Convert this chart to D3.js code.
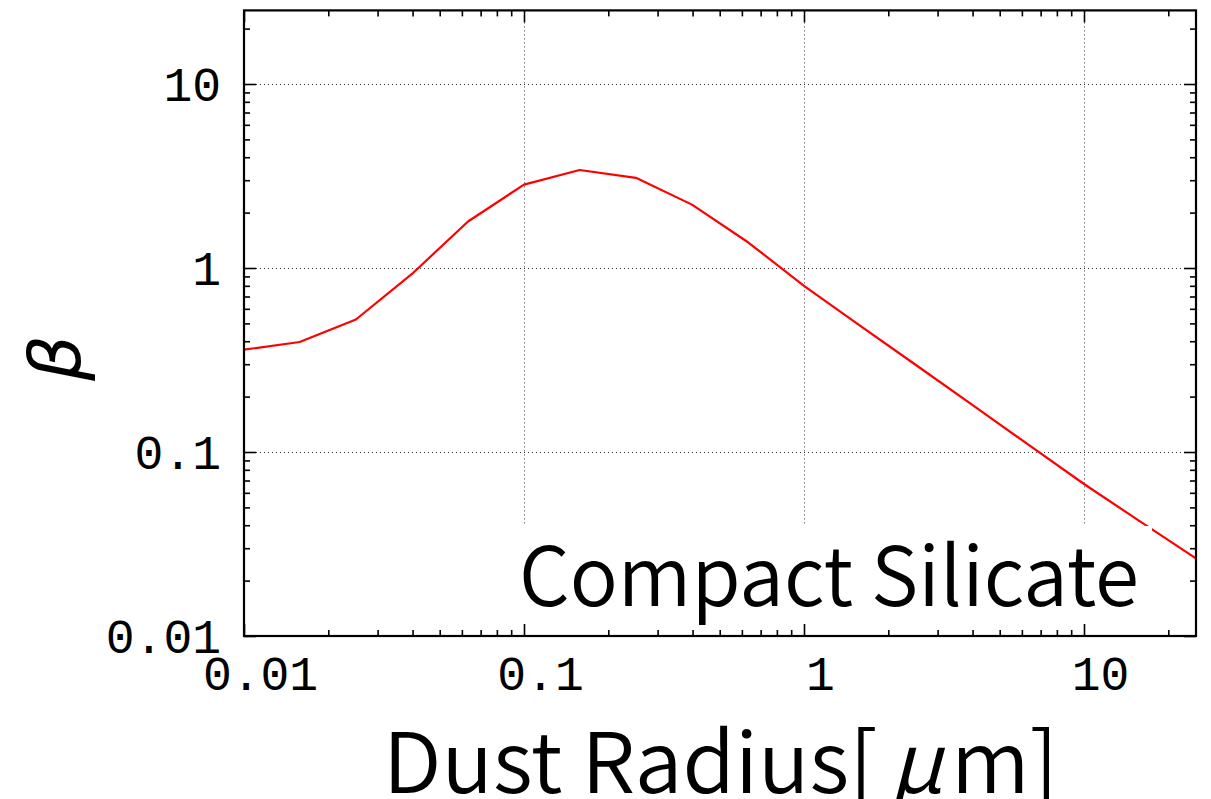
<!DOCTYPE html>
<html>
<head>
<meta charset="utf-8">
<script src="https://cdn.jsdelivr.net/npm/d3@7"></script>
<style>
  html, body { margin: 0; padding: 0; background: #fff; }
  svg { display: block; }
</style>
</head>
<body>
<svg id="chart" width="1211" height="799"></svg>
<script>
// Radiation-pressure ratio beta versus grain radius for compact silicate dust
const radius = [0.01, 0.0158, 0.0251, 0.0398, 0.0631, 0.1, 0.158, 0.251, 0.398, 0.631,
                1.0, 1.58, 2.51, 3.98, 6.31, 10, 15.8, 25.1];
const beta   = [0.360, 0.396, 0.525, 0.928, 1.79, 2.84, 3.41, 3.09, 2.21, 1.38,
                0.80, 0.488, 0.297, 0.181, 0.110, 0.067, 0.0421, 0.0264];

const majorTicks = [0.01, 0.1, 1, 10];
const majorLabels = ["0.01", "0.1", "1", "10"];
const xTitleParts = ["Dust Radius[", "\u03bc", "m]"];
const yTitle = "\u03b2";
const annotation = "Compact Silicate";

const plotLeft = 244, plotRight = 1196, plotTop = 10.4, plotBottom = 636;
const domainMax = Math.pow(10, 1.4);

const x = d3.scaleLog().domain([0.01, domainMax]).range([plotLeft, plotRight]);
const y = d3.scaleLog().domain([0.01, domainMax]).range([plotBottom, plotTop]);

// minor ticks: 2..9 in every decade inside the domain
function minorTicks(scale) {
  const out = [];
  const [d0, d1] = scale.domain();
  for (let e = -2; e <= 1; e++) {
    for (let m = 2; m <= 9; m++) {
      const v = m * Math.pow(10, e);
      if (v > d0 && v < d1) out.push(v);
    }
  }
  return out;
}
const xMinor = minorTicks(x), yMinor = minorTicks(y);

const svg = d3.select("#chart");
const W = plotRight - plotLeft, H = plotBottom - plotTop;
const sansFont = "'Noto Sans CJK JP', 'Noto Sans', sans-serif";

// dotted grid at the major decades
const grid = svg.append("g").attr("stroke", "#333").attr("stroke-width", 1)
  .attr("stroke-dasharray", "1,3");
grid.selectAll("line.gx").data(majorTicks.filter(v => v > 0.01)).enter()
  .append("line")
  .attr("x1", d => Math.round(x(d)) + 0.5).attr("x2", d => Math.round(x(d)) + 0.5)
  .attr("y1", plotTop).attr("y2", plotBottom);
grid.selectAll("line.gy").data(majorTicks.filter(v => v > 0.01)).enter()
  .append("line")
  .attr("y1", d => Math.round(y(d)) + 0.5).attr("y2", d => Math.round(y(d)) + 0.5)
  .attr("x1", plotLeft).attr("x2", plotRight);

// the curve
const line = d3.line().x((d, i) => x(radius[i])).y(d => y(d));
svg.append("path").datum(beta)
  .attr("d", line)
  .attr("fill", "none")
  .attr("stroke", "#ff0000")
  .attr("stroke-width", 2.2)
  .attr("stroke-linejoin", "round");

// opaque box behind the material label
svg.append("rect")
  .attr("x", 505).attr("y", 526)
  .attr("width", 1152 - 505).attr("height", 100)
  .attr("fill", "#fff");

svg.append("text")
  .attr("x", 519).attr("y", 606)
  .attr("font-family", sansFont)
  .attr("font-weight", 350)
  .attr("font-size", 82)
  .attr("textLength", 620)
  .attr("lengthAdjust", "spacingAndGlyphs")
  .attr("fill", "#000")
  .text(annotation);

// axes: ticks point inward on all four sides
function styleAxis(g) {
  g.select(".domain").remove();
  g.selectAll(".tick line").attr("stroke", "#000").attr("stroke-width", 1.6);
}
function tickOnly(g) {
  styleAxis(g);
  g.selectAll(".tick text").remove();
}
const tickFont = "'Liberation Mono', 'DejaVu Sans Mono', monospace";

const xAxis = svg.append("g").attr("transform", `translate(0,${plotBottom})`)
  .call(d3.axisBottom(x).tickValues(majorTicks).tickSizeInner(-12).tickSizeOuter(0)
    .tickPadding(0).tickFormat((d, i) => majorLabels[i]));
styleAxis(xAxis);
xAxis.selectAll(".tick text")
  .attr("font-family", tickFont).attr("font-size", 48).attr("fill", "#000")
  .attr("dy", null).attr("y", 54).attr("dx", 16);

svg.append("g").attr("transform", `translate(0,${plotBottom})`)
  .call(d3.axisBottom(x).tickValues(xMinor).tickSizeInner(-6))
  .call(tickOnly);

svg.append("g").attr("transform", `translate(0,${plotTop})`)
  .call(d3.axisTop(x).tickValues(majorTicks).tickSizeInner(-12))
  .call(tickOnly);
svg.append("g").attr("transform", `translate(0,${plotTop})`)
  .call(d3.axisTop(x).tickValues(xMinor).tickSizeInner(-6))
  .call(tickOnly);

const yAxis = svg.append("g").attr("transform", `translate(${plotLeft},0)`)
  .call(d3.axisLeft(y).tickValues(majorTicks).tickSizeInner(-12).tickSizeOuter(0)
    .tickPadding(0).tickFormat((d, i) => majorLabels[i]));
styleAxis(yAxis);
yAxis.selectAll(".tick text")
  .attr("font-family", tickFont).attr("font-size", 48).attr("fill", "#000")
  .attr("dy", null).attr("x", -23).attr("y", 16);

svg.append("g").attr("transform", `translate(${plotLeft},0)`)
  .call(d3.axisLeft(y).tickValues(yMinor).tickSizeInner(-6))
  .call(tickOnly);

svg.append("g").attr("transform", `translate(${plotRight},0)`)
  .call(d3.axisRight(y).tickValues(majorTicks).tickSizeInner(-12))
  .call(tickOnly);
svg.append("g").attr("transform", `translate(${plotRight},0)`)
  .call(d3.axisRight(y).tickValues(yMinor).tickSizeInner(-6))
  .call(tickOnly);

// plot frame
svg.append("rect")
  .attr("x", plotLeft).attr("y", plotTop).attr("width", W).attr("height", H)
  .attr("fill", "none").attr("stroke", "#000").attr("stroke-width", 2.2);

// axis titles
const xt = svg.append("text")
  .attr("x", 383).attr("y", 793)
  .attr("font-family", sansFont)
  .attr("font-weight", 350)
  .attr("font-size", 84)
  .attr("textLength", 675)
  .attr("lengthAdjust", "spacingAndGlyphs")
  .attr("fill", "#000");
xt.append("tspan").text(xTitleParts[0]);
xt.append("tspan").attr("dx", 12).attr("font-style", "italic").text(xTitleParts[1]);
xt.append("tspan").attr("dx", 8).text(xTitleParts[2]);

svg.append("text")
  .attr("transform", "translate(80,358) rotate(-90)")
  .attr("text-anchor", "middle")
  .attr("font-family", "'DejaVu Sans', sans-serif")
  .attr("font-style", "italic")
  .attr("font-size", 72)
  .attr("fill", "#000")
  .text(yTitle);
</script>
</body>
</html>
